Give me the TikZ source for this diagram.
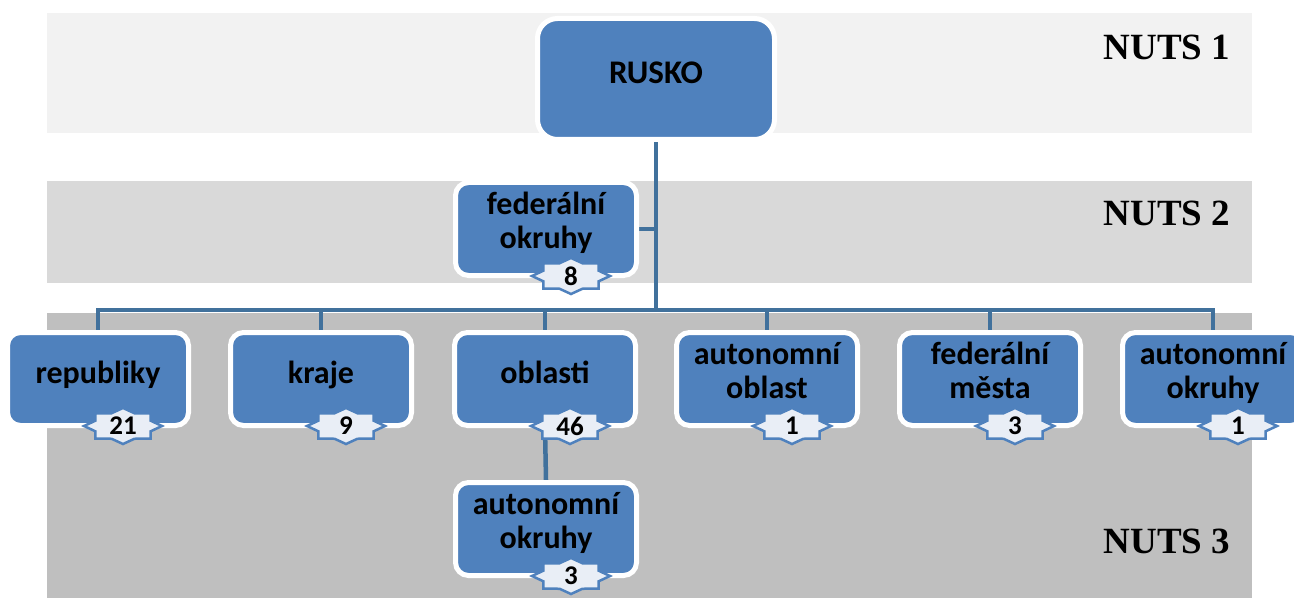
\documentclass[tikz,border=0pt]{standalone}
\usepackage{fontspec}
\setmainfont{Carlito}
\newfontfamily\nutsfont{Liberation Serif}
\definecolor{boxblue}{HTML}{4F81BD}
\definecolor{lineblue}{HTML}{41719C}
\definecolor{badgefill}{HTML}{E9EEF6}
\definecolor{bandA}{HTML}{F2F2F2}
\definecolor{bandB}{HTML}{D9D9D9}
\definecolor{bandC}{HTML}{BFBFBF}
\pgfdeclarelayer{bg}
\pgfdeclarelayer{lines}
\pgfsetlayers{bg,lines,main}
\tikzset{
  box/.style={rectangle, rounded corners=13pt, fill=boxblue, draw=white, line width=5pt,
    minimum width=181pt, minimum height=93pt, inner sep=0pt},
  bigbox/.style={box, rounded corners=20pt, minimum width=237pt, minimum height=121pt},
  lbl/.style={font=\bfseries\fontsize{32}{34}\selectfont, align=center, anchor=base, inner sep=0pt},
  num/.style={font=\bfseries\fontsize{27}{27}\selectfont, inner sep=0pt},
  nuts/.style={font=\nutsfont\bfseries\fontsize{37}{37}\selectfont, inner sep=0pt},
  conn/.style={draw=lineblue, line width=4.5pt},
  badge/.pic={
    \draw[fill=badgefill, draw=boxblue, line width=2.5pt]
      (0:39 and 18) \foreach \k in {0,...,7}{ -- ({\k*45+22.5}:30 and 13.8) -- ({\k*45+45}:39 and 18)} -- cycle;
  }
}
\begin{document}
\begin{tikzpicture}[x=1pt,y=-1pt]
\useasboundingbox (0,0) rectangle (1294,599);
\begin{pgfonlayer}{bg}
  \fill[bandA] (47,13) rectangle (1252,133);
  \fill[bandB] (47,181) rectangle (1252,283);
  \fill[bandC] (47,313) rectangle (1252,598);
\end{pgfonlayer}

\node[nuts] (nuts1) at (1167,47) {NUTS 1};
\node[nuts] (nuts2) at (1167,213) {NUTS 2};
\node[nuts] (nuts3) at (1167,541) {NUTS 3};

\node[bigbox] (rusko) at (656,79) {};
\node[lbl, font=\bfseries\fontsize{33}{33}\selectfont] (trusko) at (656,84) {RUSKO};

\node[box] (fed) at (546,229) {};
\node[lbl] (tfed) at (546,248) {federální\\okruhy};

\node[box] (b1) at (98,379) {};
\node[box] (b2) at (321,379) {};
\node[box] (b3) at (545,379) {};
\node[box] (b4) at (767,379) {};
\node[box] (b5) at (990,379) {};
\node[box] (b6) at (1213,379) {};
\node[box] (low) at (546,529) {};

\node[lbl] (t1) at (98,383) {republiky};
\node[lbl] (t2) at (321,383) {kraje};
\node[lbl] (t3) at (545,383) {oblasti};
\node[lbl] (t4) at (767,398) {autonomní\\oblast};
\node[lbl] (t5) at (990,398) {federální\\města};
\node[lbl] (t6) at (1213,398) {autonomní\\okruhy};
\node[lbl] (tlow) at (546,548) {autonomní\\okruhy};

\foreach \b/\n in {fed/8,b1/21,b2/9,b3/46,b4/1,b5/3,b6/1,low/3}{
  \pic at ([xshift=25pt,yshift=2pt]\b.south) {badge};
  \node[num] (n\b) at ([xshift=25pt,yshift=2pt]\b.south) {\n};
}

\begin{pgfonlayer}{lines}
  \coordinate (bus) at (656,310);
  \draw[conn] (rusko.south) -- (bus);
  \draw[conn] (fed.east) -- (fed.east -| rusko.south);
  \draw[conn] (b1.north) |- (bus) -| (b6.north);
  \foreach \b in {b2,b3,b4,b5}{ \draw[conn] (\b.north) -- (\b.north |- bus); }
  \draw[conn] (b3.south) -- (low.north);
\end{pgfonlayer}
\end{tikzpicture}
\end{document}
